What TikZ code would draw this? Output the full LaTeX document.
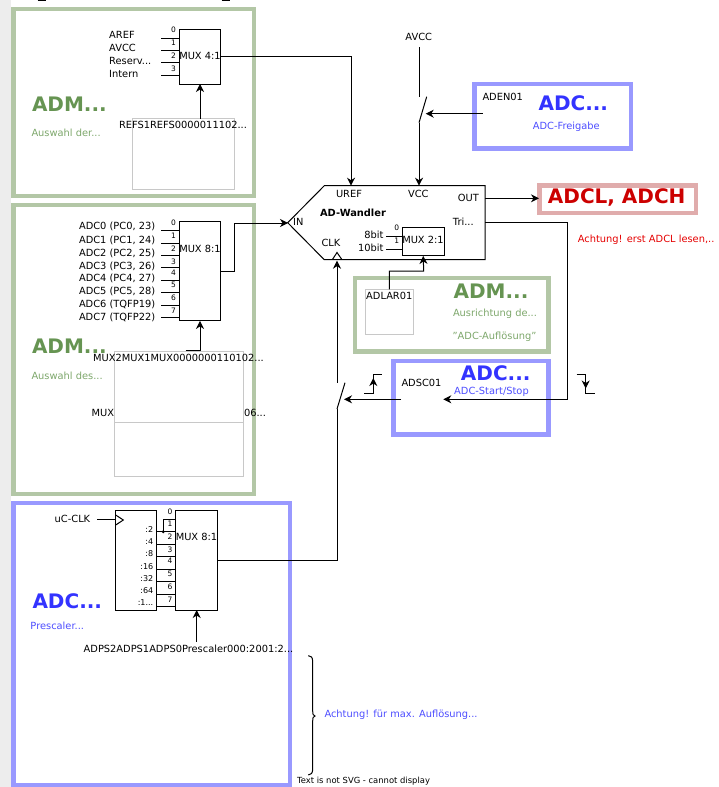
\documentclass[tikz,border=0pt]{standalone}
\usepackage{fontspec}
\setmainfont{DejaVu Sans}
\usetikzlibrary{arrows.meta}
\definecolor{grnline}{HTML}{B3C7A6}
\definecolor{bluline}{HTML}{9999FF}
\definecolor{redline}{HTML}{E0ACAC}
\definecolor{grnhead}{HTML}{669452}
\definecolor{grntext}{HTML}{7DA76B}
\definecolor{bluhead}{HTML}{3333FF}
\definecolor{blutext}{HTML}{4D4DFF}
\definecolor{tabline}{HTML}{C8C8C8}
\tikzset{
  lab/.style={inner sep=0pt,font=\fontsize{9.85}{12}\selectfont},
  dig/.style={inner sep=0pt,font=\fontsize{7.5}{9}\selectfont},
  div/.style={inner sep=0pt,anchor=east,font=\fontsize{8}{10}\selectfont},
  headtxt/.style={inner sep=0pt,font=\fontsize{20}{24}\selectfont\bfseries},
  muxbox/.style={draw,inner sep=0pt,outer sep=0pt,minimum width=41.7pt},
  frame/.style={line width=4.5pt},
  tabbox/.style={draw=tabline,fill=white,line width=1pt},
  arr/.style={-{Stealth[length=8pt,width=8pt,inset=2.5pt]}}
}
\begin{document}
\begin{tikzpicture}[x=1pt,y=-1pt,line width=1pt]
\useasboundingbox (0,0) rectangle (718,787);

\fill[black!7] (0,0) rectangle (11,787);
\draw[line width=1.6pt] (37.5,.6) -- (45.5,.6);
\draw[line width=1.6pt] (221.5,.6) -- (229.5,.6);

\draw[frame,grnline] (13.5,9) rectangle (254,196);
\draw[frame,grnline] (13.5,205) rectangle (254,494);
\draw[frame,bluline] (13.5,503) rectangle (290,785);
\draw[frame,bluline] (474.5,84) rectangle (631,148.5);
\draw[frame,redline] (539.3,185.5) rectangle (696,213);
\draw[frame,grnline] (355,278) rectangle (548.5,351.5);
\draw[frame,bluline] (393.5,361) rectangle (548.5,434.5);

\node[headtxt,grnhead,anchor=west] (admref) at (31.5,104) {ADM...};
\node[lab,grntext,anchor=west] (admreftxt) at (31,132.5) {Auswahl der...};
\node[headtxt,grnhead,anchor=west] (admmux) at (31.5,346) {ADM...};
\node[lab,grntext,anchor=west] (admmuxtxt) at (31,376) {Auswahl des...};
\node[headtxt,bluhead,anchor=west] (adcclk) at (32,601.5) {ADC...};
\node[lab,blutext,anchor=west] (adcclktxt) at (30,626) {Prescaler...};

\draw[tabbox] (132,118) rectangle (234.7,189);
\node[lab] (tabref) at (183,125) {REFS1REFS0000011102...};

\node[lab,anchor=east] (mux3l) at (114.5,413) {MUX};
\node[lab,anchor=west] (mux3r) at (243.5,413) {06...};
\draw[tabbox] (114.7,351.7) rectangle (243.7,422.7);
\draw[tabbox] (114.7,422.7) rectangle (243.7,476.7);
\node[lab] (tabmux) at (178.5,358) {MUX2MUX1MUX0000000110102...};

\node[muxbox,minimum height=55pt] (mref) at (200,56.5) {};
\node[lab] (mreftxt) at (200,56) {MUX 4:1};
\node[lab,anchor=west] (aref) at (108.7,35) {AREF};
\node[lab,anchor=west] (avcc) at (108.7,48) {AVCC};
\node[lab,anchor=west] (resv) at (108.7,61) {Reserv...};
\node[lab,anchor=west] (intern) at (108.7,74) {Intern};
\node[dig] (r0) at (173.5,30) {0};
\node[dig] (r1) at (173.5,43) {1};
\node[dig] (r2) at (173.5,56) {2};
\node[dig] (r3) at (173.5,69) {3};
\coordinate (rs0) at (161,38);
\coordinate (rs1) at (161,50);
\coordinate (rs2) at (161,62.5);
\coordinate (rs3) at (161,75);
\draw (rs0) -- (rs0 -| mref.west);
\draw (rs1) -- (rs1 -| mref.west);
\draw (rs2) -- (rs2 -| mref.west);
\draw (rs3) -- (rs3 -| mref.west);
\draw[arr] (tabref.north -| mref.south) ++(0,-2) -- (mref.south);

\node[muxbox,minimum height=99.3pt] (madc) at (200,271.3) {};
\node[lab] (madctxt) at (200,249) {MUX 8:1};
\node[lab,anchor=east] (adc0) at (155.7,226.7) {ADC0 (PC0, 23)};
\node[lab,anchor=east] (adc1) at (155.7,240) {ADC1 (PC1, 24)};
\node[lab,anchor=east] (adc2) at (155.7,253) {ADC2 (PC2, 25)};
\node[lab,anchor=east] (adc3) at (155.7,266) {ADC3 (PC3, 26)};
\node[lab,anchor=east] (adc4) at (155.7,278) {ADC4 (PC4, 27)};
\node[lab,anchor=east] (adc5) at (155.7,291) {ADC5 (PC5, 28)};
\node[lab,anchor=east] (adc6) at (155.7,304) {ADC6 (TQFP19)};
\node[lab,anchor=east] (adc7) at (155.7,317) {ADC7 (TQFP22)};
\node[dig] (a0) at (173.5,223) {0};
\node[dig] (a1) at (173.5,236) {1};
\node[dig] (a2) at (173.5,249) {2};
\node[dig] (a3) at (173.5,262) {3};
\node[dig] (a4) at (173.5,273) {4};
\node[dig] (a5) at (173.5,285) {5};
\node[dig] (a6) at (173.5,298) {6};
\node[dig] (a7) at (173.5,311) {7};
\coordinate (as0) at (161,230.7);
\coordinate (as1) at (161,243);
\coordinate (as2) at (161,255.3);
\coordinate (as3) at (161,267.7);
\coordinate (as4) at (161,280);
\coordinate (as5) at (161,292.7);
\coordinate (as6) at (161,305);
\coordinate (as7) at (161,317.3);
\draw (as0) -- (as0 -| madc.west);
\draw (as1) -- (as1 -| madc.west);
\draw (as2) -- (as2 -| madc.west);
\draw (as3) -- (as3 -| madc.west);
\draw (as4) -- (as4 -| madc.west);
\draw (as5) -- (as5 -| madc.west);
\draw (as6) -- (as6 -| madc.west);
\draw (as7) -- (as7 -| madc.west);
\coordinate (seltail) at (185.7,350.7);
\draw[arr] (seltail) -- (seltail -| madc.south) -- (madc.south);

\node[draw,inner sep=0pt,outer sep=0pt,minimum width=41.3pt,minimum height=100pt] (presc) at (136.3,560) {};
\node[muxbox,minimum height=100pt] (mclk) at (196.5,560) {};
\node[lab] (mclktxt) at (196.5,537) {MUX 8:1};
\node[lab,anchor=east] (ucclk) at (90.7,519) {uC-CLK};
\coordinate (clktail) at (97.3,519.7);
\draw (clktail) -- (clktail -| presc.west);
\coordinate (pt0) at (115.7,515);
\coordinate (pt1) at (123.3,520);
\coordinate (pt2) at (115.7,525);
\draw (pt0) -- (pt1) -- (pt2);
\node[div] (d2) at (153.7,530) {:2};
\node[div] (d4) at (153.7,542) {:4};
\node[div] (d8) at (153.7,554) {:8};
\node[div] (d16) at (153.7,567) {:16};
\node[div] (d32) at (153.7,579) {:32};
\node[div] (d64) at (153.7,591) {:64};
\node[div] (d128) at (153.7,603) {:1...};
\node[dig] (c0) at (170,512) {0};
\node[dig] (c1) at (170,524) {1};
\node[dig] (c2) at (170,537) {2};
\node[dig] (c3) at (170,550) {3};
\node[dig] (c4) at (170,561) {4};
\node[dig] (c5) at (170,574) {5};
\node[dig] (c6) at (170,587) {6};
\node[dig] (c7) at (170,600) {7};
\coordinate (cs2) at (157,531.7);
\coordinate (cs3) at (157,544);
\coordinate (cs4) at (157,556.3);
\coordinate (cs5) at (157,569);
\coordinate (cs6) at (157,581.7);
\coordinate (cs7) at (157,594);
\coordinate (cs8) at (157,606);
\draw (cs2) -- (cs2 -| mclk.west);
\draw (cs3) -- (cs3 -| mclk.west);
\draw (cs4) -- (cs4 -| mclk.west);
\draw (cs5) -- (cs5 -| mclk.west);
\draw (cs6) -- (cs6 -| mclk.west);
\draw (cs7) -- (cs7 -| mclk.west);
\draw (cs8) -- (cs8 -| mclk.west);
\coordinate (cdot) at (163.3,531.7);
\coordinate (cbend) at (163.3,519.7);
\fill (cdot) circle (1.6pt);
\draw (cdot) -- (cbend) -- (cbend -| mclk.west);
\node[lab] (tabclk) at (188.5,649.3) {ADPS2ADPS1ADPS0Prescaler000:2001:2...};
\coordinate (clktab) at (196.7,641.7);
\draw[arr] (clktab) -- (clktab |- mclk.south);

\coordinate (wa) at (324.3,185.7);
\coordinate (wb) at (485,185.7);
\coordinate (wc) at (485,259.7);
\coordinate (wd) at (324.3,259.7);
\coordinate (we) at (287.7,222.7);
\draw (wa) -- (wb) -- (wc) -- (wd) -- (we) -- cycle;
\node[lab] (uref) at (349,194) {UREF};
\node[lab] (vcc) at (418.3,194) {VCC};
\node[lab] (out) at (468.3,198) {OUT};
\node[lab] (tri) at (463.3,222) {Tri...};
\node[lab] (in) at (298.3,222) {IN};
\node[lab] (clk) at (331,243) {CLK};
\node[lab,font=\fontsize{9.85}{12}\selectfont\bfseries] (wand) at (353,213) {AD-Wandler};
\coordinate (ct0) at (332.3,259.7);
\coordinate (ct1) at (337,252.5);
\coordinate (ct2) at (342,259.7);
\draw (ct0) -- (ct1) -- (ct2);
\node[muxbox,minimum height=28.3pt] (mres) at (423.2,241.8) {};
\node[lab] (mrestxt) at (423,240) {MUX 2:1};
\node[lab,anchor=east] (bit8) at (384,235) {8bit};
\node[lab,anchor=east] (bit10) at (384,248) {10bit};
\node[dig] (b0) at (396.7,228) {0};
\node[dig] (b1) at (396.7,241) {1};
\coordinate (bs0) at (386,236.7);
\coordinate (bs1) at (386,249);
\draw (bs0) -- (bs0 -| mres.west);
\draw (bs1) -- (bs1 -| mres.west);

\coordinate (urefin) at (351,185.7);
\draw[arr] (mref.east) -| (urefin);
\coordinate (inbend) at (234.7,223);
\coordinate (inpt) at (288,223);
\draw[arr] (madc.east) -| (inbend) -- (inpt);

\node[lab] (avccin) at (418.7,37) {AVCC};
\coordinate (vs0) at (419,47.3);
\coordinate (vs1) at (419,96.7);
\coordinate (vs2) at (419,122.7);
\coordinate (vs3) at (426.7,96.7);
\coordinate (vcctip) at (419,185.7);
\draw (vs0) -- (vs1);
\draw (vs2) -- (vs3);
\draw[arr] (vs2) -- (vcctip);
\node[lab,anchor=west] (aden) at (482,97.3) {ADEN01};
\coordinate (adent) at (482.7,113.7);
\coordinate (adenh) at (425.7,113.7);
\draw[arr] (adent) -- (adenh);
\node[headtxt,bluhead] (adcen) at (573.3,103.3) {ADC...};
\node[lab,blutext] (adcentxt) at (566.3,127) {ADC-Freigabe};

\coordinate (outtail) at (485,198.3);
\coordinate (outtip) at (539,198.3);
\draw[arr] (outtail) -- (outtip);
\node[headtxt,red!80!black] (adcl) at (616.7,197.3) {ADCL, ADCH};
\node[lab,anchor=west,red!90!black] (warnl) at (577.3,240) {Achtung! erst ADCL lesen,..};

\draw[tabbox] (365.3,289.3) rectangle (413.7,334.3);
\node[lab] (adlar) at (389.3,296) {ADLAR01};
\node[headtxt,grnhead] (admres) at (491,291.7) {ADM...};
\node[lab,grntext] (admrest1) at (495,314) {Ausrichtung de...};
\node[lab,grntext] (admrest2) at (494.5,337) {"ADC-Auflösung"};
\coordinate (lart) at (389.3,289.3);
\coordinate (larb) at (423.7,271);
\draw[arr] (lart) |- (larb) -- (mres.south);

\node[lab,anchor=west] (adsc) at (401,383) {ADSC01};
\node[headtxt,bluhead] (adcst) at (495.7,373) {ADC...};
\node[lab,blutext] (adcsttxt) at (491.5,392) {ADC-Start/Stop};
\coordinate (tritail) at (485,222.3);
\coordinate (tribend) at (567,399.3);
\coordinate (trihead) at (443.3,399.3);
\draw[arr] (tritail) -| (tribend) -- (trihead);
\coordinate (sctail) at (401,399.3);
\coordinate (schead) at (344,399.3);
\draw[arr] (sctail) -- (schead);

\coordinate (up0) at (364,393.3);
\coordinate (up1) at (373.3,393.3);
\coordinate (up2) at (373.3,374.3);
\coordinate (up3) at (382,374.3);
\coordinate (upm) at (373.3,378);
\draw (up0) -- (up1) -- (up2) -- (up3);
\draw[arr] (up1) -- (upm);
\coordinate (dn0) at (576.7,374.3);
\coordinate (dn1) at (585.7,374.3);
\coordinate (dn2) at (585.7,393.3);
\coordinate (dn3) at (595,393.3);
\coordinate (dnm) at (585.7,388.5);
\draw (dn0) -- (dn1) -- (dn2) -- (dn3);
\draw[arr] (dn1) -- (dnm);

\coordinate (sc0) at (337,409);
\coordinate (sc1) at (345,382.7);
\coordinate (sc2) at (337,382.7);
\coordinate (clktip) at (337,260.7);
\draw (mclk.east) -| (sc0);
\draw (sc0) -- (sc1);
\draw[arr] (sc2) -- (clktip);

\coordinate (bt) at (308.3,655.7);
\coordinate (bm) at (315,716);
\coordinate (bb) at (308.3,775);
\draw (bt) .. controls (311,655.7) and (312.7,657) .. (312.7,662) -- (312.7,710) .. controls (312.7,714) and (313,716) .. (bm) .. controls (313,716) and (312.7,718) .. (312.7,722) -- (312.7,769) .. controls (312.7,773) and (311,775) .. (bb);
\node[lab,anchor=west,blutext] (warnb) at (324,715) {Achtung! für max. Auflösung...};
\node[inner sep=0pt,anchor=west,font=\fontsize{8.4}{10}\selectfont] (notsvg) at (296.7,780.7) {Text is not SVG - cannot display};
\end{tikzpicture}
\end{document}
